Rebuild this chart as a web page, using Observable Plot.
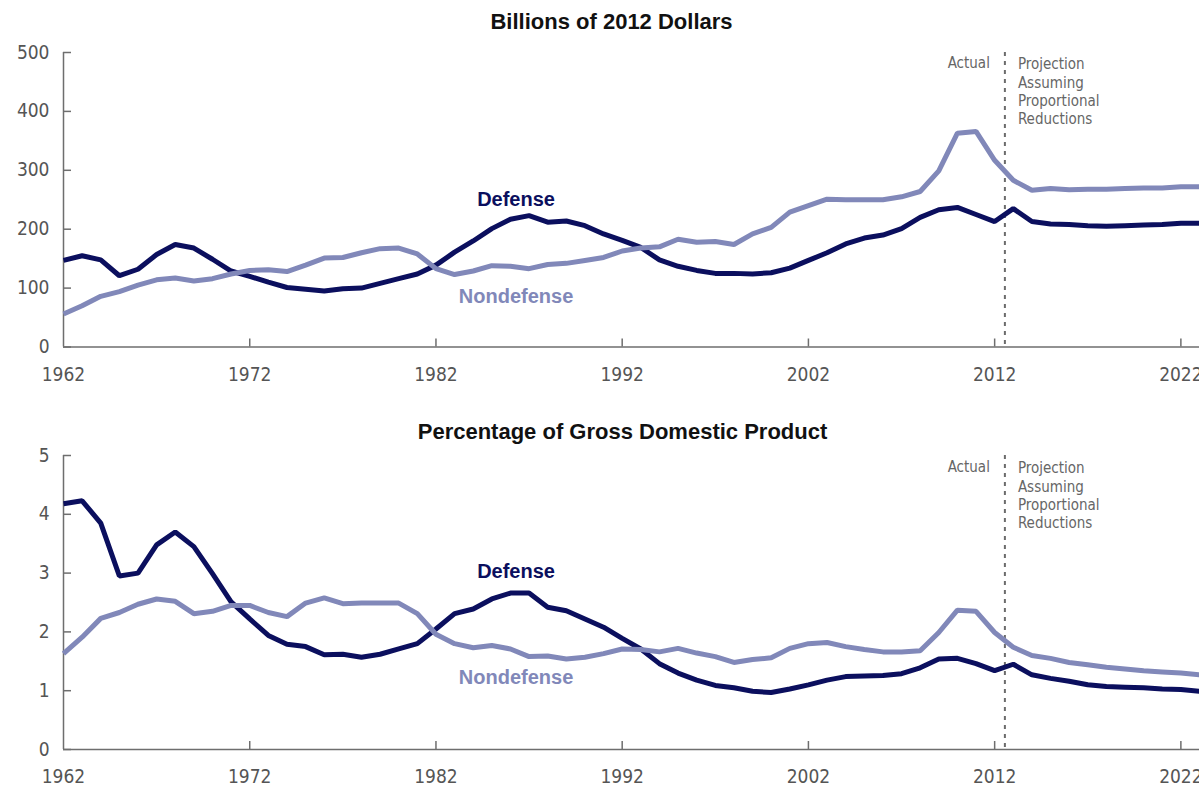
<!DOCTYPE html>
<html><head><meta charset="utf-8">
<script src="https://cdn.jsdelivr.net/npm/d3@7"></script>
<script src="https://cdn.jsdelivr.net/npm/@observablehq/plot@0.6"></script>
<style>
html,body{margin:0;padding:0;background:#fff;}
#chart{width:1199px;height:786px;overflow:hidden;}
#chart svg{display:block;}
</style></head><body><div id="chart"></div>
<script>
const years = [1962,1963,1964,1965,1966,1967,1968,1969,1970,1971,
  1972,1973,1974,1975,1976,1977,1978,1979,1980,1981,
  1982,1983,1984,1985,1986,1987,1988,1989,1990,1991,
  1992,1993,1994,1995,1996,1997,1998,1999,2000,2001,
  2002,2003,2004,2005,2006,2007,2008,2009,2010,2011,
  2012,2013,2014,2015,2016,2017,2018,2019,2020,2021,
  2022,2023];
const defenseDollars = [147,155,148,121,132,157,174,168,149,129,
  120,110,101,98,95,99,100,108,116,124,
  139,161,180,201,217,223,212,214,206,192,
  181,169,148,137,130,125,125,124,126,134,
  147,160,175,185,190,201,220,233,237,225,
  213,235,213,209,208,206,205,206,207,208,
  210,210];
const nondefenseDollars = [56,70,86,94,105,114,117,112,116,124,
  130,131,128,139,151,152,160,167,168,158,
  133,123,129,138,137,133,140,142,147,152,
  163,168,170,183,178,179,174,192,203,229,
  240,251,250,250,250,255,264,299,363,366,
  317,283,266,269,267,268,268,269,270,270,
  272,272];
const defenseGDP = [4.18,4.23,3.85,2.95,3.00,3.48,3.70,3.45,2.99,2.51,
  2.22,1.94,1.79,1.75,1.61,1.62,1.57,1.62,1.71,1.80,
  2.05,2.31,2.39,2.56,2.66,2.66,2.42,2.36,2.22,2.08,
  1.89,1.71,1.46,1.30,1.18,1.09,1.05,0.99,0.97,1.03,
  1.10,1.18,1.24,1.25,1.26,1.29,1.39,1.54,1.55,1.46,
  1.34,1.45,1.27,1.21,1.16,1.10,1.07,1.06,1.05,1.03,
  1.02,0.99];
const nondefenseGDP = [1.63,1.91,2.23,2.33,2.47,2.56,2.52,2.31,2.35,2.45,
  2.45,2.33,2.26,2.49,2.58,2.48,2.49,2.49,2.49,2.31,
  1.96,1.80,1.73,1.77,1.71,1.58,1.59,1.54,1.57,1.63,
  1.71,1.70,1.66,1.72,1.64,1.58,1.48,1.53,1.56,1.72,
  1.80,1.82,1.75,1.70,1.66,1.66,1.68,1.99,2.37,2.35,
  1.99,1.74,1.60,1.55,1.48,1.44,1.40,1.37,1.34,1.32,
  1.30,1.27];

const seriesNames = ["Defense", "Nondefense"];
const seriesColors = ["#0b0f5e", "#8188b9"];
const xTickYears = [1962, 1972, 1982, 1992, 2002, 2012, 2022];
const dollarTicks = [0, 100, 200, 300, 400, 500];
const gdpTicks = [0, 1, 2, 3, 4, 5];
const dividerYear = 2012.55;
const labelYear = 1986.3;
const titles = ["Billions of 2012 Dollars", "Percentage of Gross Domestic Product"];
const actualText = "Actual";
const projectionText = "Projection\nAssuming\nProportional\nReductions";
const dollarLabelValues = [250, 86];
const gdpLabelValues = [3.02, 1.23];

const narrow = '"Liberation Sans Narrow", "Arial Narrow", "DejaVu Sans Condensed", sans-serif';
const boldFont = '"Liberation Sans", Arial, sans-serif';

function panel(o) {
  const rows = years.flatMap((yr, i) => [
    {year: yr, value: o.defense[i], series: seriesNames[0]},
    {year: yr, value: o.nondefense[i], series: seriesNames[1]}
  ]);
  const labels = seriesNames.map((s, i) => ({series: s, year: labelYear, value: o.labelValues[i]}));
  return Plot.plot({
    width: 1199, height: 393,
    marginLeft: 63, marginRight: 0, marginTop: o.marginTop, marginBottom: o.marginBottom,
    style: {fontFamily: narrow, background: "white", overflow: "visible"},
    x: {domain: [1962, 2023]},
    y: {domain: [o.ticks[0], o.ticks[o.ticks.length - 1]]},
    color: {domain: seriesNames, range: seriesColors},
    marks: [
      Plot.ruleX([dividerYear], {stroke: "#6b6b6b", strokeWidth: 2, strokeDasharray: "4,5"}),
      Plot.ruleX([1962], {stroke: "#6e6e6e", strokeWidth: 1.5}),
      Plot.ruleY([o.ticks[0]], {stroke: "#6e6e6e", strokeWidth: 1.5}),
      Plot.axisY({ticks: o.ticks, tickSize: 8, dx: 8, fill: "none", stroke: "#6e6e6e", strokeWidth: 1.5, label: null}),
      Plot.axisY({ticks: o.ticks, tickSize: 0, tickPadding: 14, tickFormat: d => String(d), fill: "#555", fontSize: 19, label: null}),
      Plot.axisX({ticks: xTickYears.slice(1), tickSize: 8, dy: -8, fill: "none", stroke: "#6e6e6e", strokeWidth: 1.5, label: null}),
      Plot.axisX({ticks: xTickYears, tickSize: 0, tickPadding: 20, tickFormat: d => String(d), fill: "#555", fontSize: 19, label: null}),
      Plot.line(rows, {x: "year", y: "value", z: "series", stroke: "series", strokeWidth: 5, strokeLinejoin: "miter", strokeLinecap: "butt"}),
      Plot.text(labels, {x: "year", y: "value", text: "series", fill: "series", fontFamily: boldFont, fontWeight: "bold", fontSize: 20}),
      Plot.text([o.title], {frameAnchor: "top", lineAnchor: "middle", dx: o.titleDx, dy: o.titleDy, fontFamily: boldFont, fontWeight: "bold", fontSize: 22, fill: "#111"}),
      Plot.text([actualText], {x: dividerYear, frameAnchor: "top", lineAnchor: "middle", dx: -15, dy: o.noteDy, textAnchor: "end", fontSize: 15, fill: "#666"}),
      Plot.text([projectionText], {x: dividerYear, frameAnchor: "top", dx: 13, dy: o.projDy, textAnchor: "start", lineAnchor: "top", lineHeight: 1.21, fontSize: 15, fill: "#666"})
    ]
  });
}

const chart = document.getElementById("chart");
chart.appendChild(panel({
  title: titles[0], titleDx: -20, titleDy: -31,
  defense: defenseDollars, nondefense: nondefenseDollars,
  ticks: dollarTicks, labelValues: dollarLabelValues,
  marginTop: 52, marginBottom: 46.5, noteDy: 11, projDy: 4
}));
chart.appendChild(panel({
  title: titles[1], titleDx: -9, titleDy: -23.5,
  defense: defenseGDP, nondefense: nondefenseGDP,
  ticks: gdpTicks, labelValues: gdpLabelValues,
  marginTop: 62, marginBottom: 37, noteDy: 12, projDy: 5
}));
</script></body></html>
